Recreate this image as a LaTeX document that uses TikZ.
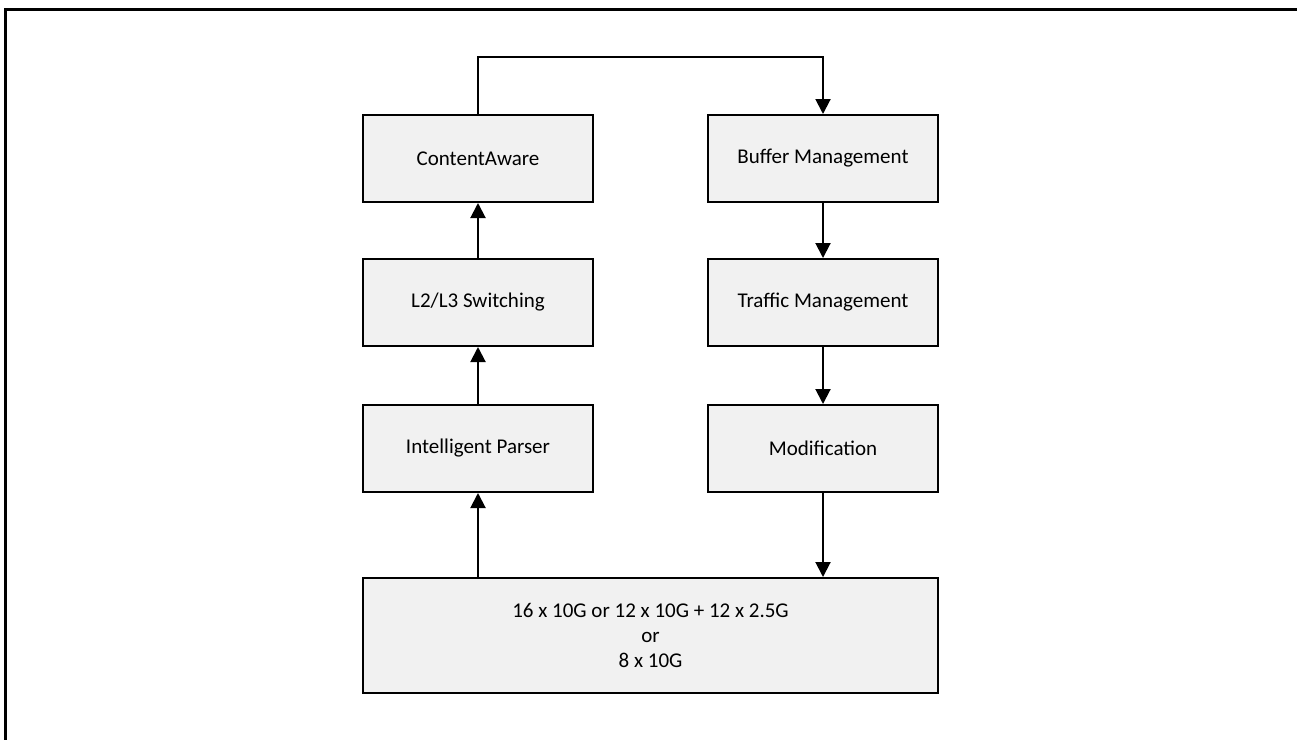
\documentclass[tikz,border=0pt]{standalone}
\usepackage{fontspec}
\setmainfont{Carlito}
\usetikzlibrary{arrows.meta}
\definecolor{boxgray}{HTML}{F1F1F1}
\begin{document}
\begin{tikzpicture}[x=1pt,y=-1pt,
  box/.style={draw=black, line width=2pt, fill=boxgray, minimum width=230pt, minimum height=87pt, inner sep=0pt, align=center, font=\fontsize{21}{25}\selectfont},
  conn/.style={line width=2pt, -{Triangle[width=15pt,length=15pt]}}]
\useasboundingbox (0,0) rectangle (1297,739);
\draw[line width=3pt] (5,745) -- (5,9) -- (1305,9);
\node[box] (ca) at (478,158.5) {ContentAware};
\node[box] (l2) at (478,302.5) {L2/L3 Switching};
\node[box] (ip) at (478,448.5) {Intelligent Parser};
\node[box] (bm) at (823,158.5) {Buffer Management};
\node[box] (tm) at (823,302.5) {Traffic Management};
\node[box] (mod) at (823,448.5) {Modification};
\node[box, minimum width=575pt, minimum height=115pt] (io) at (650.5,635.5) {16 x 10G or 12 x 10G + 12 x 2.5G\\or\\8 x 10G};
\draw[conn] (io.north -| ip.south) -- (ip.south);
\draw[conn] (ip.north) -- (l2.south);
\draw[conn] (l2.north) -- (ca.south);
\draw[conn] (ca.north) -- ++(0,-57) -| (bm.north);
\draw[conn] (bm.south) -- (tm.north);
\draw[conn] (tm.south) -- (mod.north);
\draw[conn] (mod.south) -- (mod.south |- io.north);
\end{tikzpicture}
\end{document}
